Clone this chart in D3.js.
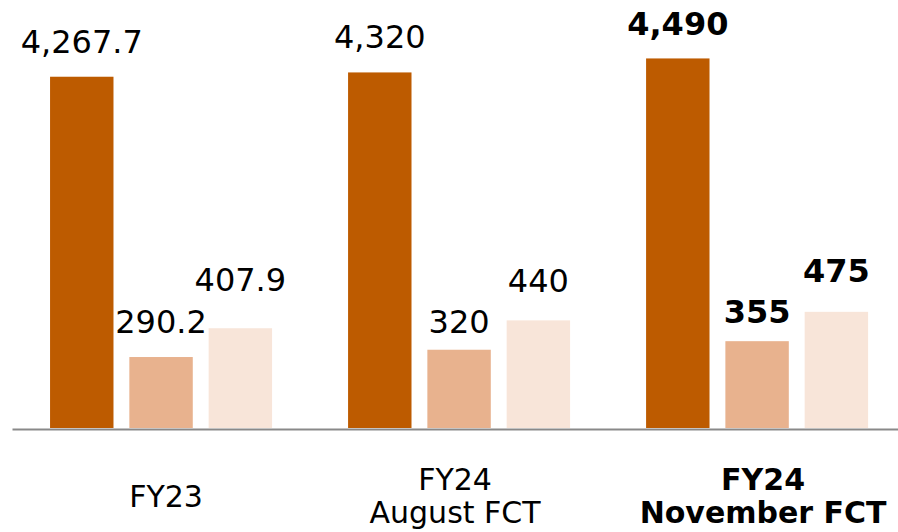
<!DOCTYPE html>
<html>
<head>
<meta charset="utf-8">
<script src="https://cdn.jsdelivr.net/npm/d3@7"></script>
<style>
  body { margin: 0; background: #fff; }
  svg { display: block; font-family: 'DejaVu Sans', Verdana, sans-serif; }
</style>
</head>
<body>
<svg width="898" height="532"></svg>
<script>
// Categories (lines of each x label), last one highlighted
const categories = ['FY23', 'FY24 August FCT', 'FY24 November FCT'];
const categoryLines = [['FY23'], ['FY24', 'August FCT'], ['FY24', 'November FCT']];
const highlighted = 'FY24 November FCT';

// Series values
const seriesKeys = ['Net sales', 'Operating profit', 'Ordinary profit'];
const netSales = [4267.7, 4320, 4490];
const operatingProfit = [290.2, 320, 355];
const ordinaryProfit = [407.9, 440, 475];

// Value label texts as shown on the chart
const netSalesLabels = ['4,267.7', '4,320', '4,490'];
const operatingLabels = ['290.2', '320', '355'];
const ordinaryLabels = ['407.9', '440', '475'];

const seriesValues = [netSales, operatingProfit, ordinaryProfit];
const seriesLabels = [netSalesLabels, operatingLabels, ordinaryLabels];

// small hand nudges of the value labels (px), per series, per category
const labelNudge = [[0, 0, 1], [0, 7, 5.5], [-13.5, -4.5, -6]];
const categoryNudge = [5, -4, 6];

const svg = d3.select('svg');
const width = +svg.attr('width');
const baseline = 428;

// Scale for the groups
const x0 = d3
  .scaleBand()
  .domain(categories)
  .range([12, width])
  .paddingInner(0.255)
  .paddingOuter(0.114)
  .align(0.56);

// Scale for the bars inside a group
const x1 = d3
  .scaleBand()
  .domain(seriesKeys)
  .range([0, x0.bandwidth()])
  .paddingInner(0.2);

// Sales use their own scale, profits share a second one
const ySales = d3.scaleLinear().domain([0, 5200]).range([baseline, 0]);
const yProfit = d3.scaleLinear().domain([0, 1750]).range([baseline, 0]);
const yFor = key => (key === seriesKeys[0] ? ySales : yProfit);

const color = d3
  .scaleOrdinal()
  .domain(seriesKeys)
  .range(['#BD5B00', '#E8B28E', '#F8E5D9']);

const rows = categories.map((cat, i) => ({
  cat,
  i,
  bars: seriesKeys.map((key, s) => ({
    key,
    s,
    i,
    value: seriesValues[s][i],
    label: seriesLabels[s][i]
  }))
}));

const groups = svg
  .append('g')
  .selectAll('g')
  .data(rows)
  .enter()
  .append('g')
  .attr('transform', d => `translate(${x0(d.cat)},0)`);

// Bars
groups
  .selectAll('rect')
  .data(d => d.bars)
  .enter()
  .append('rect')
  .attr('x', d => x1(d.key))
  .attr('y', d => yFor(d.key)(d.value))
  .attr('width', x1.bandwidth())
  .attr('height', d => baseline - yFor(d.key)(d.value))
  .attr('fill', d => color(d.key));

// Value labels
groups
  .selectAll('text')
  .data(d => d.bars)
  .enter()
  .append('text')
  .attr('x', d => x1(d.key) + x1.bandwidth() / 2)
  .attr('y', d => yFor(d.key)(d.value) - 24 + labelNudge[d.s][d.i])
  .attr('text-anchor', 'middle')
  .attr('font-size', 32)
  .attr('font-weight', d => (categories[d.i] === highlighted ? 'bold' : 'normal'))
  .attr('fill', '#000')
  .text(d => d.label);

// X-Axis
const xAxis = svg
  .append('g')
  .attr('transform', `translate(0,${baseline + 1})`)
  .call(d3.axisBottom(x0).tickSize(0).tickSizeOuter(0).tickFormat(''));

xAxis.select('.domain').attr('stroke', '#898989').attr('stroke-width', 2);

xAxis
  .selectAll('.tick text')
  .attr('font-size', 30)
  .attr('font-family', "'DejaVu Sans', Verdana, sans-serif")
  .attr('fill', '#000')
  .attr('font-weight', d => (d === highlighted ? 'bold' : 'normal'))
  .attr('dx', (d, i) => categoryNudge[i])
  .attr('y', 0)
  .attr('dy', 0)
  .each(function(d, i) {
    const lines = categoryLines[i];
    const text = d3.select(this);
    const x = categoryNudge[i];
    text.attr('dx', null);
    lines.forEach((line, k) => {
      text
        .append('tspan')
        .attr('x', x)
        .attr('y', lines.length === 1 ? 78 : 61 + k * 33)
        .text(line);
    });
  });
</script>
</body>
</html>
